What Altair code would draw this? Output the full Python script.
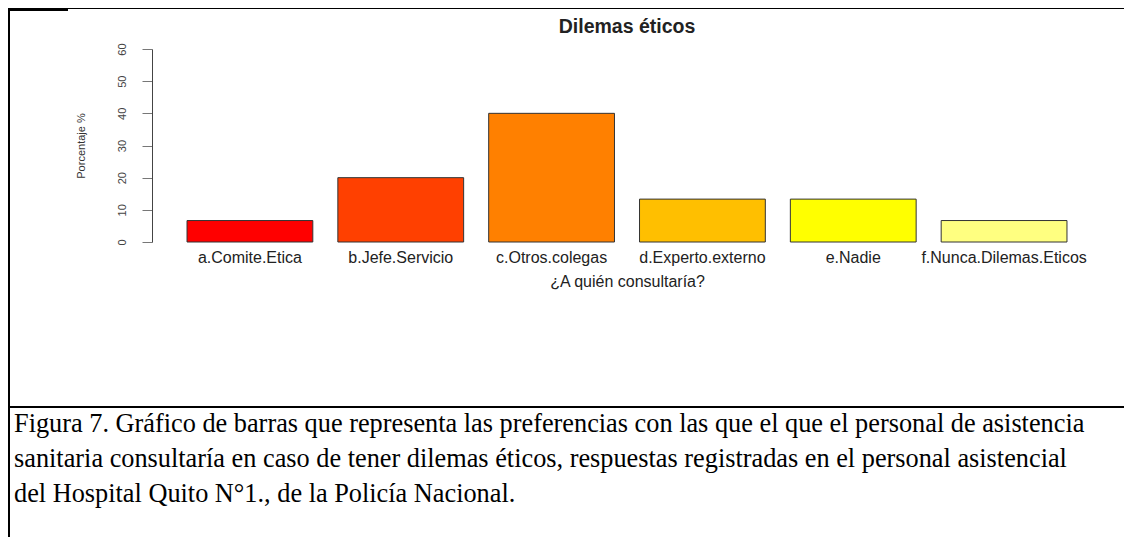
import altair as alt
import pandas as pd

categories = ["a.Comite.Etica", "b.Jefe.Servicio", "c.Otros.colegas",
              "d.Experto.externo", "e.Nadie", "f.Nunca.Dilemas.Eticos"]
percentages = [6.67, 20.0, 40.0, 13.33, 13.33, 6.67]
bar_colors = ["#FF0000", "#FF4000", "#FF8000", "#FFBF00", "#FFFF00", "#FFFF80"]
y_ticks = [0, 10, 20, 30, 40, 50, 60]

chart_title = "Dilemas éticos"
x_title = "¿A quién consultaría?"
y_title = "Porcentaje %"

caption_lines = [
    "Figura 7. Gráfico de barras que representa las preferencias con las que el que el personal de asistencia",
    "sanitaria consultaría en caso de tener dilemas éticos, respuestas registradas en el personal asistencial",
    "del Hospital Quito N°1., de la Policía Nacional.",
]

df = pd.DataFrame({"cat": categories, "pct": percentages})

# page -> plot coordinates (plot origin at page (174.5, 49))
OX, OY = 174.5, 49.0
W, H = 905, 193

bars = alt.Chart(df).mark_bar(stroke="#333333", strokeWidth=1).encode(
    x=alt.X("cat:N", sort=None,
            scale=alt.Scale(paddingInner=0.166, paddingOuter=0.083),
            axis=alt.Axis(title=x_title, labelAngle=0, domain=False, ticks=False,
                          labelFont="Liberation Sans", labelFontSize=16, labelColor="#222222",
                          labelPadding=7, titleFont="Liberation Sans", titleFontSize=16,
                          titleFontWeight="normal", titleColor="#222222", titlePadding=8)),
    y=alt.Y("pct:Q", scale=alt.Scale(domain=[0, 60], nice=False),
            axis=alt.Axis(title=y_title, values=y_ticks, grid=False, offset=22.5,
                          tickSize=10, tickColor="#777777", domainColor="#444444",
                          labelAngle=270, labelFont="Liberation Sans", labelFontSize=11,
                          labelColor="#444444", labelPadding=15,
                          titleFont="Liberation Sans", titleFontSize=11,
                          titleFontWeight="normal", titleColor="#333333", titlePadding=30)),
    color=alt.Color("cat:N", sort=None,
                    scale=alt.Scale(domain=categories, range=bar_colors), legend=None),
)

layers = [bars]

# chart title as a text mark (kept inside the canvas)
layers.append(
    alt.Chart(pd.DataFrame({"t": [chart_title]})).mark_text(
        align="center", baseline="alphabetic", font="Liberation Sans",
        fontSize=19.5, fontWeight="bold", color="#222222").encode(
        text="t:N", x=alt.value(W / 2), y=alt.value(33 - OY))
)

# frame lines
frame_df = pd.DataFrame({"k": [0]})
def hrule(x1, x2, y, w):
    return alt.Chart(frame_df).mark_rule(color="black", strokeWidth=w).encode(
        x=alt.value(x1 - OX), x2=alt.value(x2 - OX), y=alt.value(y - OY))
def vrule(x, y1, y2, w):
    return alt.Chart(frame_df).mark_rule(color="black", strokeWidth=w).encode(
        x=alt.value(x - OX), y=alt.value(y1 - OY), y2=alt.value(y2 - OY))

layers.append(hrule(8, 1124, 8.5, 1))
layers.append(hrule(8, 68, 9.5, 3))
layers.append(vrule(9, 8, 537, 2))
layers.append(hrule(8, 1124, 407, 2))

for i, line in enumerate(caption_lines):
    layers.append(
        alt.Chart(pd.DataFrame({"t": [line]})).mark_text(
            align="left", baseline="alphabetic", font="Liberation Serif",
            fontSize=26.3, color="black").encode(
            text="t:N", x=alt.value(14 - OX), y=alt.value(432 + 35 * i - OY))
    )

chart = alt.layer(*layers).properties(
    width=W, height=H,
    autosize=alt.AutoSizeParams(type="none"),
    padding={"left": 166.5, "top": 41, "right": 44.5, "bottom": 295},
).configure_view(stroke=None)

chart.save("out.html", embed_options={"renderer": "svg", "actions": False})
